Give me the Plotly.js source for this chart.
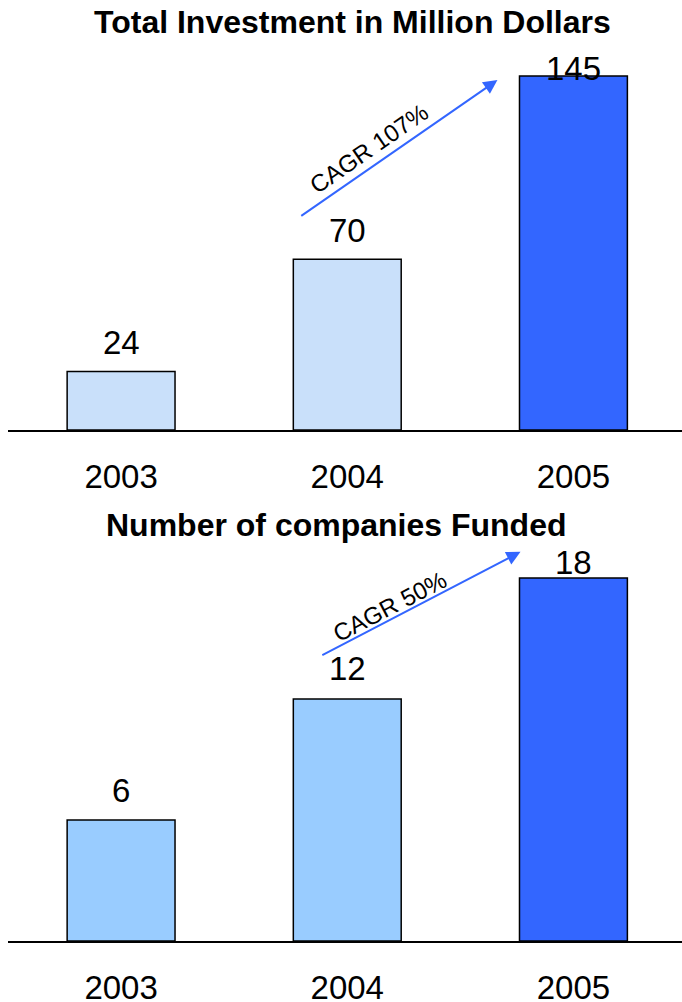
<!DOCTYPE html>
<html><head><meta charset="utf-8">
<script src="https://cdn.plot.ly/plotly-3.0.1.min.js"></script>
<style>html,body{margin:0;padding:0;background:#fff}#c{width:682px;height:1002px}</style>
</head><body><div id="c"></div>
<script>
const years = ['2003', '2004', '2005'];
const investment = [24, 70, 145];
const companies = [6, 12, 18];
const invColors = ['#C9E0FA', '#C9E0FA', '#3366FF'];
const compColors = ['#99CCFF', '#99CCFF', '#3366FF'];
const titles = ['Total Investment in Million Dollars', 'Number of companies Funded'];
const cagr = ['CAGR 107%', 'CAGR 50%'];

const F = 'Liberation Sans, Arial, sans-serif';
const bar = (y, colors, xa, ya) => ({
  type: 'bar', x: years, y: y, xaxis: xa, yaxis: ya, width: 0.477,
  marker: {color: colors, line: {color: '#000', width: 1.5}},
  hoverinfo: 'skip', showlegend: false
});
const data = [bar(investment, invColors, 'x', 'y'), bar(companies, compColors, 'x2', 'y2')];

const xax = (anchor) => ({
  type: 'category', range: [-0.5, 2.48], domain: [0, 1], anchor: anchor,
  showline: true, linecolor: '#000', linewidth: 2, showgrid: false, zeroline: false,
  ticks: '', ticklabelstandoff: 16, tickfont: {family: F, size: 33, color: '#000'}, fixedrange: true
});
const yax = (dom, max, anchor) => ({
  domain: dom, range: [0, max], anchor: anchor, visible: false, showgrid: false, zeroline: false, fixedrange: true
});

const ann = [];
const shiftsTop = [29, 29, 8], shiftsBot = [29, 30, 15];
years.forEach((yr, i) => {
  ann.push({x: i, y: investment[i], xref: 'x', yref: 'y', text: String(investment[i]), showarrow: false,
    yanchor: 'middle', yshift: shiftsTop[i], font: {family: F, size: 33, color: '#000'}});
  ann.push({x: i, y: companies[i], xref: 'x2', yref: 'y2', text: String(companies[i]), showarrow: false,
    yanchor: 'middle', yshift: shiftsBot[i], font: {family: F, size: 33, color: '#000'}});
});
// titles
ann.push({x: 349 / 682, y: 1 - 22 / 1002, xref: 'paper', yref: 'paper', text: '<b>' + titles[0] + '</b>', showarrow: false,
  font: {family: F, size: 32, color: '#000'}, yanchor: 'middle'});
ann.push({x: 332 / 682, y: 1 - 525 / 1002, xref: 'paper', yref: 'paper', text: '<b>' + titles[1] + '</b>', showarrow: false,
  font: {family: F, size: 32, color: '#000'}, yanchor: 'middle'});
// CAGR arrows
ann.push({x: 1.664, y: 143.4, ax: 0.79, ay: 87.3, xref: 'x', yref: 'y', axref: 'x', ayref: 'y', text: '',
  showarrow: true, arrowhead: 2, arrowsize: 1.4, arrowwidth: 2, arrowcolor: '#3366FF'});
ann.push({x: 1.766, y: 19.29, ax: 0.883, ay: 14.13, xref: 'x2', yref: 'y2', axref: 'x2', ayref: 'y2', text: '',
  showarrow: true, arrowhead: 2, arrowsize: 1.4, arrowwidth: 2, arrowcolor: '#3366FF'});
ann.push({x: 1.095, y: 115.5, xref: 'x', yref: 'y', text: cagr[0], showarrow: false, textangle: -34.7,
  font: {family: F, size: 24, color: '#000'}});
ann.push({x: 1.188, y: 16.56, xref: 'x2', yref: 'y2', text: cagr[1], showarrow: false, textangle: -27.5,
  font: {family: F, size: 24, color: '#000'}});

const layout = {
  width: 682, height: 1002, margin: {l: 8, r: 0, t: 0, b: 0},
  paper_bgcolor: '#fff', plot_bgcolor: 'rgba(0,0,0,0)', bargap: 0.5,
  xaxis: xax('y'), yaxis: yax([1 - 430 / 1002, 1 - 40 / 1002], 159.8, 'x'),
  xaxis2: xax('y2'), yaxis2: yax([1 - 941 / 1002, 1 - 545 / 1002], 19.63, 'x2'),
  annotations: ann
};
Plotly.newPlot('c', data, layout, {displayModeBar: false, staticPlot: true});
</script></body></html>
